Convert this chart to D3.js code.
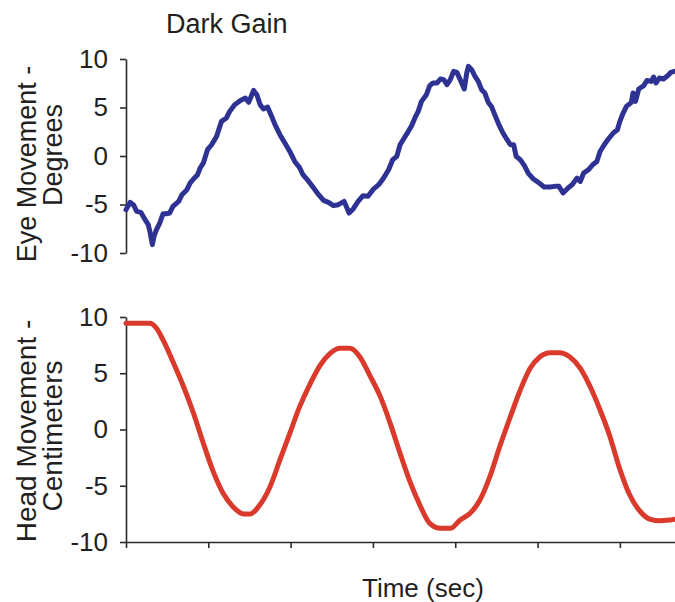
<!DOCTYPE html>
<html>
<head>
<meta charset="utf-8">
<script src="https://cdn.jsdelivr.net/npm/d3@7/dist/d3.min.js"></script>
<style>
  html, body { margin: 0; padding: 0; background: #fff; }
  svg { display: block; }
  text { font-family: "Liberation Sans", Arial, Helvetica, sans-serif; fill: #231f20; }
</style>
</head>
<body>
<svg id="chart" width="675" height="602"></svg>
<script>
// ---- Data (time in seconds) ----
const title = "Dark Gain";
const xLabel = "Time (sec)";
const eyeLabel = ["Eye Movement -", "Degrees"];
const headLabel = ["Head Movement -", "Centimeters"];
const yTicks = [-10, -5, 0, 5, 10];
const xTicks = [0, 1, 2, 3, 4, 5, 6];

const eyeTime = [0.00,0.05,0.09,0.13,0.18,0.22,0.27,0.29,0.32,0.34,0.37,0.41,0.45,0.49,0.53,0.57,0.64,0.68,0.74,0.78,
  0.82,0.87,0.90,0.94,0.99,1.04,1.10,1.16,1.22,1.26,1.32,1.39,1.45,1.49,1.52,1.55,1.59,1.63,1.67,1.72,
  1.77,1.81,1.87,1.93,1.99,2.05,2.11,2.15,2.22,2.28,2.34,2.40,2.46,2.52,2.58,2.65,2.71,2.76,2.82,2.88,
  2.94,3.00,3.07,3.13,3.19,3.24,3.29,3.33,3.38,3.43,3.47,3.51,3.55,3.59,3.65,3.69,3.73,3.78,3.82,3.86,
  3.90,3.94,3.98,4.02,4.07,4.11,4.14,4.16,4.20,4.24,4.28,4.32,4.36,4.40,4.44,4.48,4.53,4.58,4.63,4.67,
  4.71,4.74,4.79,4.84,4.89,4.95,5.01,5.08,5.15,5.21,5.26,5.31,5.37,5.42,5.48,5.52,5.56,5.62,5.67,5.72,
  5.76,5.81,5.86,5.92,5.97,6.00,6.04,6.08,6.14,6.16,6.19,6.23,6.29,6.33,6.38,6.41,6.44,6.48,6.53,6.58,
  6.62,6.66];
const eyeDeg = [-5.54,-4.78,-5.02,-5.71,-5.81,-6.39,-7.08,-7.77,-9.14,-8.29,-7.60,-6.91,-5.95,-5.95,-5.88,-5.20,-4.68,-3.99,-3.47,-2.78,
  -2.37,-1.93,-1.24,-0.72,0.65,1.16,2.02,3.57,3.92,4.60,5.29,5.73,5.98,5.53,6.14,6.76,6.32,5.29,4.85,5.05,
  4.08,3.23,2.20,1.34,0.47,-0.56,-1.21,-1.93,-2.62,-3.30,-3.99,-4.58,-4.78,-5.12,-5.02,-4.68,-5.88,-5.46,-4.68,-4.09,
  -4.16,-3.47,-2.96,-2.27,-1.41,-0.38,-0.04,1.16,1.86,2.54,3.12,3.92,4.60,5.63,6.32,7.25,7.53,7.53,7.94,7.87,
  7.35,7.87,8.72,8.62,7.69,6.91,8.56,9.24,8.90,8.21,7.69,6.84,6.49,5.55,5.11,4.26,3.23,2.37,1.68,1.16,
  1.16,-0.04,-0.38,-1.00,-1.82,-2.37,-2.72,-3.20,-3.20,-3.13,-3.13,-3.81,-3.30,-2.96,-2.27,-2.62,-1.75,-1.41,-0.90,-0.56,
  0.47,1.16,1.75,2.37,2.71,3.57,4.43,5.11,5.53,6.49,5.63,6.91,7.25,7.79,7.69,8.14,7.53,8.04,7.94,8.28,
  8.62,8.72];

const headTime = [0.00,0.29,0.37,0.45,0.57,0.70,0.82,0.94,1.06,1.18,1.30,1.43,1.51,1.61,1.75,1.87,1.99,2.11,2.24,2.36,
  2.48,2.60,2.72,2.84,2.96,3.09,3.21,3.33,3.45,3.57,3.69,3.82,3.94,4.06,4.18,4.30,4.42,4.54,4.67,4.79,
  4.91,5.03,5.15,5.27,5.39,5.52,5.64,5.76,5.88,5.99,6.11,6.25,6.37,6.49,6.67];
const headCm = [9.44,9.44,9.00,7.96,6.03,3.80,1.44,-1.23,-3.75,-5.67,-6.86,-7.51,-7.51,-6.86,-5.08,-2.71,-0.34,2.03,4.11,5.73,
  6.77,7.22,7.22,6.47,4.84,2.92,0.55,-2.12,-4.64,-6.71,-8.34,-8.78,-8.78,-8.04,-7.45,-6.27,-4.20,-1.53,1.14,3.51,
  5.44,6.47,6.83,6.83,6.47,5.44,3.80,1.73,-0.64,-3.31,-5.67,-7.31,-7.98,-8.11,-7.98];

// ---- Layout ----
const svg = d3.select("#chart");
const axisColor = "#2b2b2b";
const x = d3.scaleLinear().domain([0, 6.67]).range([126, 675]);
const yEye = d3.scaleLinear().domain([-10, 10]).range([253, 59]);
const yHead = d3.scaleLinear().domain([-10, 10]).range([542, 317]);

function styleAxis(g) {
  g.selectAll("path.domain").attr("stroke", axisColor).attr("stroke-width", 1.6);
  g.selectAll(".tick line").attr("stroke", axisColor).attr("stroke-width", 1.6);
  g.selectAll(".tick text").attr("font-size", 26).attr("fill", "#231f20")
    .attr("font-family", '"Liberation Sans", Arial, Helvetica, sans-serif');
}

const fmt = d => String(d);

// Eye y axis
const gEye = svg.append("g").attr("transform", "translate(126,0)")
  .call(d3.axisLeft(yEye).tickValues(yTicks).tickSize(6).tickSizeOuter(0).tickPadding(12).tickFormat(fmt));
styleAxis(gEye);

// Head y axis
const gHead = svg.append("g").attr("transform", "translate(126,0)")
  .call(d3.axisLeft(yHead).tickValues(yTicks).tickSize(6).tickSizeOuter(0).tickPadding(12).tickFormat(fmt));
styleAxis(gHead);

// X axis (no labels)
const gX = svg.append("g").attr("transform", "translate(0,542)")
  .call(d3.axisBottom(x).tickValues(xTicks).tickSize(6).tickSizeOuter(0).tickFormat(""));
styleAxis(gX);

// Lines
const eyeData = eyeTime.map((t, i) => [t, eyeDeg[i]]);
const headData = headTime.map((t, i) => [t, headCm[i]]);

svg.append("path").datum(eyeData)
  .attr("fill", "none").attr("stroke", "#2e3393").attr("stroke-width", 5)
  .attr("stroke-linejoin", "round").attr("stroke-linecap", "round")
  .attr("d", d3.line().x(d => x(d[0])).y(d => yEye(d[1])));

svg.append("path").datum(headData)
  .attr("fill", "none").attr("stroke", "#d93a2c").attr("stroke-width", 5)
  .attr("stroke-linejoin", "round").attr("stroke-linecap", "round")
  .attr("d", d3.line().curve(d3.curveMonotoneX).x(d => x(d[0])).y(d => yHead(d[1])));

// Title
svg.append("text").attr("x", 166).attr("y", 33).attr("font-size", 27).text(title);

// X label
svg.append("text").attr("x", 362).attr("y", 597).attr("font-size", 26).text(xLabel);

// Y labels (rotated)
function rotLabel(txt, bx, cy, size) {
  svg.append("text")
    .attr("transform", `translate(${bx},${cy}) rotate(-90)`)
    .attr("text-anchor", "middle").attr("font-size", size).text(txt);
}
rotLabel(eyeLabel[0], 36, 164, 27);
rotLabel(eyeLabel[1], 62, 155, 27);
rotLabel(headLabel[0], 36, 431, 28);
rotLabel(headLabel[1], 62, 436, 28);
</script>
</body>
</html>
